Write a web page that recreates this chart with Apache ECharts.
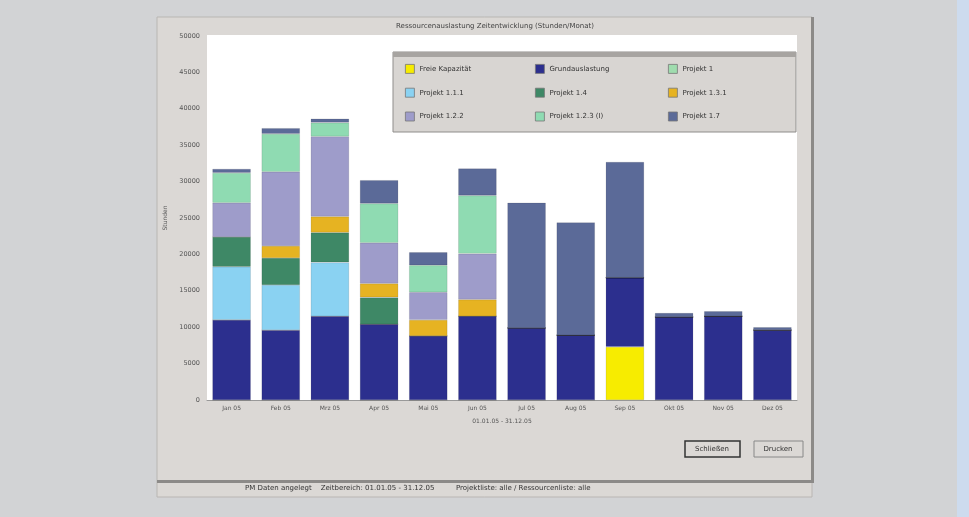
<!DOCTYPE html>
<html><head><meta charset="utf-8">
<script src="https://cdn.jsdelivr.net/npm/echarts@6/dist/echarts.min.js"></script>
<style>
html,body{margin:0;padding:0;background:#d2d3d5;}
#c{width:969px;height:517px;}
</style></head><body><div id="c"></div>
<script>
const categories = ['Jan 05','Feb 05','Mrz 05','Apr 05','Mai 05','Jun 05','Jul 05','Aug 05','Sep 05','Okt 05','Nov 05','Dez 05'];
const seriesNames = ['Freie Kapazität','Grundauslastung','Projekt 1','Projekt 1.1.1','Projekt 1.4','Projekt 1.3.1','Projekt 1.2.2','Projekt 1.2.3 (I)','Projekt 1.7'];
const freieKapazitaet = [0,0,0,0,0,0,0,0,7300,0,0,0];
const grundauslastung = [11000,9600,11500,10400,8800,11500,9900,8900,9500,11400,11500,9600];
const projekt1        = [0,0,0,0,0,0,0,0,0,0,0,0];
const projekt111      = [7300,6200,7400,0,0,0,0,0,0,0,0,0];
const projekt14       = [4100,3700,4100,3700,0,0,0,0,0,0,0,0];
const projekt131      = [0,1650,2200,1900,2200,2300,0,0,0,0,0,0];
const projekt122      = [4700,10200,11000,5600,3800,6300,0,0,0,0,0,0];
const projekt123      = [4100,5200,1900,5400,3700,8000,0,0,0,0,0,0];
const projekt17       = [550,800,550,3200,1800,3700,17200,15500,15900,550,700,400];
const yTicks = [0,5000,10000,15000,20000,25000,30000,35000,40000,45000,50000];

const allData = [freieKapazitaet,grundauslastung,projekt1,projekt111,projekt14,projekt131,projekt122,projekt123,projekt17];
const colors = ['#f7ec00','#2c2f8e','#9fdcae','#8ad2f2','#3e8866','#e6b322','#9e9cca','#8fdbb2','#5b6a98'];

const chart = echarts.init(document.getElementById('c'));
const series = allData.map((d,i)=>({
  name: seriesNames[i], type:'bar', stack:'total', data:d, barWidth:'78%',
  itemStyle:{color:colors[i], borderColor:'rgba(0,0,0,0.18)', borderWidth:0.6},
  emphasis:{disabled:true}
}));
const legendCol = (names, left)=>({
  data:names, left:left, top:59, orient:'vertical', itemGap:14,
  itemWidth:9, itemHeight:9, icon:'rect',
  textStyle:{fontSize:7, color:'#333', fontFamily:'DejaVu Sans'},
  itemStyle:{borderColor:'#777', borderWidth:0.8},
  selectedMode:false
});
chart.setOption({
  animation:false,
  backgroundColor:'transparent',
  graphic:[
    {type:'rect', shape:{x:157,y:17,width:655,height:480}, style:{fill:'#dbd8d5', stroke:'#b9b6b3', lineWidth:1}, z:-10},
    {type:'rect', shape:{x:811,y:17,width:3,height:466}, style:{fill:'#8c8a88'}, z:-9},
    {type:'rect', shape:{x:157,y:480,width:657,height:3}, style:{fill:'#8c8a88'}, z:-9},
    {type:'rect', shape:{x:957,y:0,width:12,height:517}, style:{fill:'#cddbee'}, z:-9},
    {type:'rect', shape:{x:207,y:35,width:590,height:365}, style:{fill:'#ffffff'}, z:-8},
    {type:'rect', shape:{x:393,y:52,width:403,height:80}, style:{fill:'#d8d5d2', stroke:'#8f8d8b', lineWidth:1}, z:-1},
    {type:'rect', shape:{x:393,y:52,width:403,height:5}, style:{fill:'#a7a4a1'}, z:-1},
    {type:'rect', shape:{x:685,y:441,width:55,height:16}, style:{fill:'#dbd8d5', stroke:'#333', lineWidth:1.5}},
    {type:'text', x:712, y:449, style:{text:'Schließen', fontSize:7, fill:'#333', align:'center', verticalAlign:'middle', fontFamily:'DejaVu Sans'}},
    {type:'rect', shape:{x:754,y:441,width:49,height:16}, style:{fill:'#dbd8d5', stroke:'#888', lineWidth:1}},
    {type:'text', x:778, y:449, style:{text:'Drucken', fontSize:7, fill:'#333', align:'center', verticalAlign:'middle', fontFamily:'DejaVu Sans'}},
    {type:'text', x:245, y:488, style:{text:'PM Daten angelegt    Zeitbereich: 01.01.05 - 31.12.05', fontSize:7, fill:'#333', verticalAlign:'middle', fontFamily:'DejaVu Sans'}},
    {type:'text', x:456, y:488, style:{text:'Projektliste: alle / Ressourcenliste: alle', fontSize:7, fill:'#333', verticalAlign:'middle', fontFamily:'DejaVu Sans'}}
  ],
  title:{text:'Ressourcenauslastung Zeitentwicklung (Stunden/Monat)', left:490, top:18, textAlign:'center',
    textStyle:{fontSize:7, fontWeight:'normal', color:'#444', fontFamily:'DejaVu Sans'}},
  legend:[
    legendCol([seriesNames[0],seriesNames[3],seriesNames[6]], 400),
    legendCol([seriesNames[1],seriesNames[4],seriesNames[7]], 530),
    legendCol([seriesNames[2],seriesNames[5],seriesNames[8]], 663)
  ],
  grid:{left:207, right:172, top:36, bottom:117, containLabel:false},
  xAxis:{type:'category', data:categories, name:'01.01.05 - 31.12.05', nameLocation:'middle', nameGap:18,
    nameTextStyle:{fontSize:6, color:'#555', fontFamily:'DejaVu Sans'},
    axisLine:{lineStyle:{color:'#999'}}, axisTick:{show:false},
    axisLabel:{fontSize:6, color:'#555', margin:5, fontFamily:'DejaVu Sans'}},
  yAxis:{type:'value', min:yTicks[0], max:yTicks[yTicks.length-1], interval:yTicks[1]-yTicks[0],
    name:'Stunden', nameLocation:'middle', nameGap:29, nameRotate:90,
    nameTextStyle:{fontSize:6, color:'#555', fontFamily:'DejaVu Sans'},
    axisLine:{show:false}, axisTick:{show:false}, splitLine:{show:false},
    axisLabel:{fontSize:6.5, color:'#555', margin:7, fontFamily:'DejaVu Sans', formatter:(v)=>String(v)}},
  series:series
});
</script></body></html>
